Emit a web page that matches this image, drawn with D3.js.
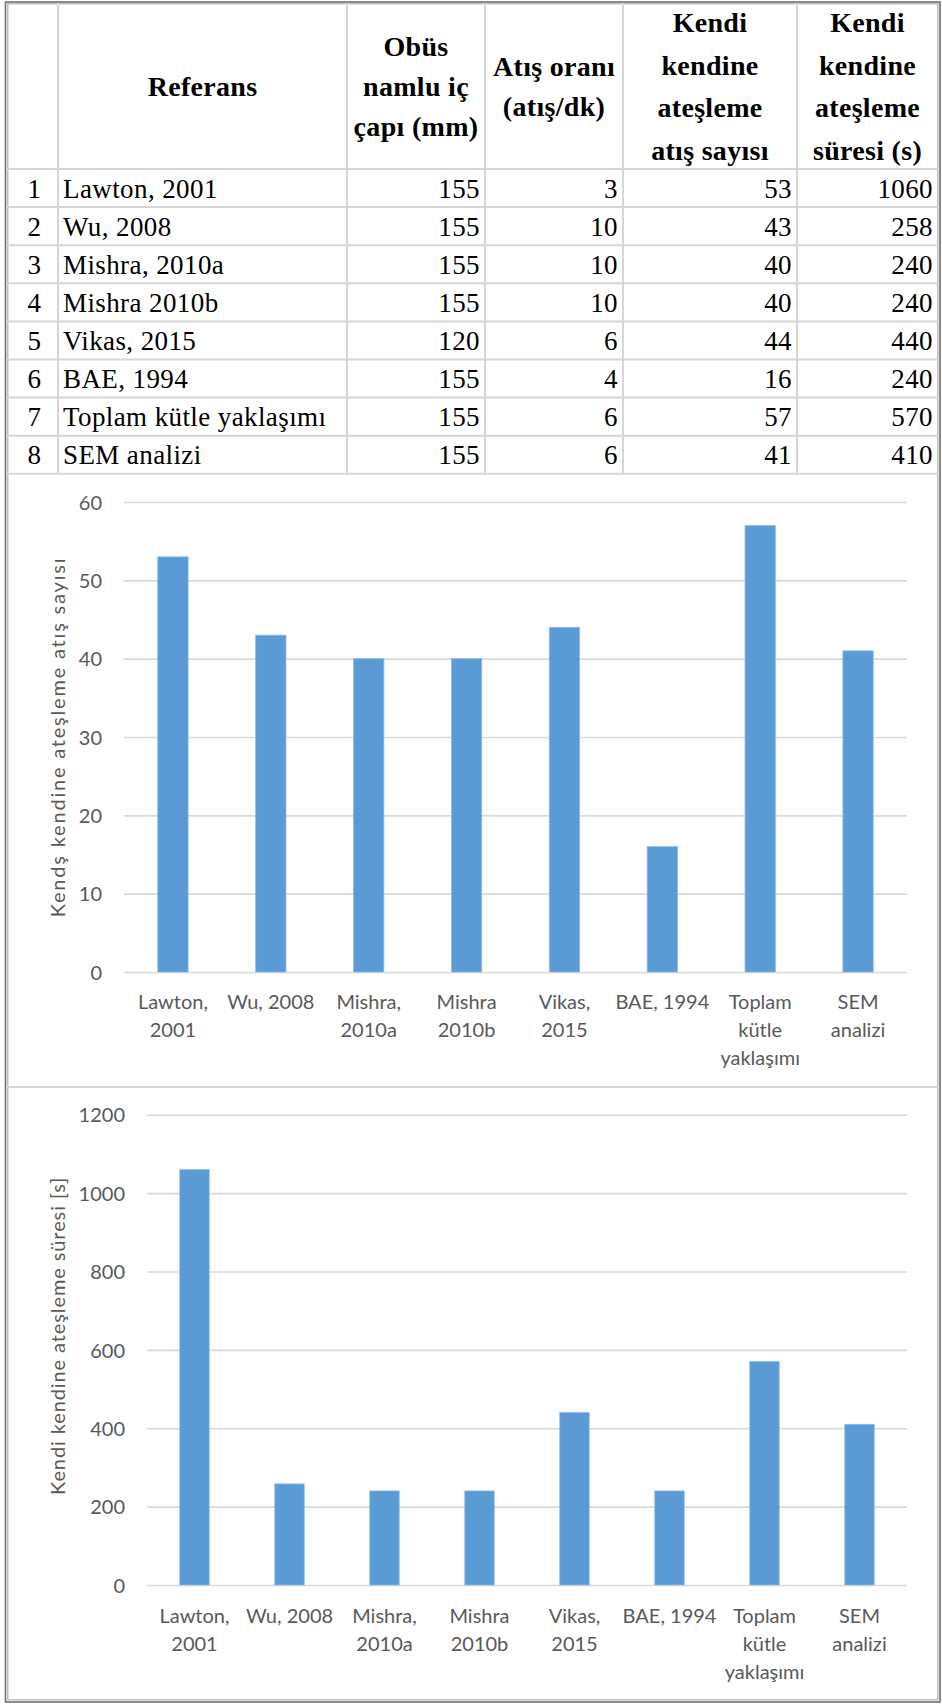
<!DOCTYPE html>
<html>
<head>
<meta charset="utf-8">
<script src="https://cdn.jsdelivr.net/npm/d3@7/dist/d3.min.js"></script>
<style>
  html, body { margin: 0; padding: 0; background: #fff; }
  svg { display: block; }
  .tbl text { font-family: "Liberation Serif", "Times New Roman", serif; fill: #000; }
  .chart text { font-family: Lato, "Open Sans", sans-serif; fill: #595959; }
</style>
</head>
<body>
<svg id="fig" width="942" height="1704"></svg>
<script>
// Cook-off comparison data
const rowNumbers = [1, 2, 3, 4, 5, 6, 7, 8];
const references = ["Lawton, 2001", "Wu, 2008", "Mishra, 2010a", "Mishra 2010b",
                    "Vikas, 2015", "BAE, 1994", "Toplam kütle yaklaşımı", "SEM analizi"];
const axisLabels = ["Lawton,\n2001", "Wu, 2008", "Mishra,\n2010a", "Mishra\n2010b",
                    "Vikas,\n2015", "BAE, 1994", "Toplam\nkütle\nyaklaşımı", "SEM\nanalizi"];
const caliber = [155, 155, 155, 155, 120, 155, 155, 155];
const fireRate = [3, 10, 10, 10, 6, 4, 6, 6];
const cookOffRounds = [53, 43, 40, 40, 44, 16, 57, 41];
const cookOffTime = [1060, 258, 240, 240, 440, 240, 570, 410];
const roundsTicks = [0, 10, 20, 30, 40, 50, 60];
const timeTicks = [0, 200, 400, 600, 800, 1000, 1200];
const headers = [
  [],
  ["Referans"],
  ["Obüs", "namlu iç", "çapı (mm)"],
  ["Atış oranı", "(atış/dk)"],
  ["Kendi", "kendine", "ateşleme", "atış sayısı"],
  ["Kendi", "kendine", "ateşleme", "süresi (s)"]
];
const roundsTitle = "Kendş kendine ateşleme atış sayısı";
const timeTitle = "Kendi kendine ateşleme süresi [s]";

const svg = d3.select("#fig");

// ---------- outer frame ----------
svg.append("rect").attr("x", 5.5).attr("y", 2).attr("width", 934.5).attr("height", 1700)
  .attr("fill", "none").attr("stroke", "#6f6f6f").attr("stroke-width", 1.6);
svg.append("rect").attr("x", 7.8).attr("y", 3.8).attr("width", 930).attr("height", 1696)
  .attr("fill", "none").attr("stroke", "#b4b4b4").attr("stroke-width", 1.3);

// ---------- table ----------
const colX = [7, 58, 347, 485, 623, 797, 938];
const headTop = 3, headBottom = 169, rowH = 38.1;
const tableBottom = headBottom + rowH * rowNumbers.length;
const tbl = svg.append("g").attr("class", "tbl");
const gridColor = "#d6d6d6";

// row rules
d3.range(rowNumbers.length + 1).forEach(i => {
  const y = headBottom + i * rowH;
  tbl.append("line").attr("x1", colX[0]).attr("x2", colX[6]).attr("y1", y).attr("y2", y)
    .attr("stroke", gridColor).attr("stroke-width", 2);
});
// column rules
colX.slice(1, 6).forEach(x => {
  tbl.append("line").attr("x1", x).attr("x2", x).attr("y1", headTop).attr("y2", tableBottom)
    .attr("stroke", gridColor).attr("stroke-width", 2);
});

// header text
const headMid = 88;
headers.forEach((lines, c) => {
  const cx = (colX[c] + colX[c + 1]) / 2;
  const lead = lines.length > 3 ? 42.5 : 40;
  lines.forEach((t, i) => {
    tbl.append("text")
      .attr("x", cx)
      .attr("y", headMid + 8 + (i - (lines.length - 1) / 2) * lead)
      .attr("text-anchor", "middle")
      .attr("font-weight", "bold")
      .attr("font-size", 28)
      .attr("letter-spacing", 0.3)
      .text(t);
  });
});

// body rows
const columns = [rowNumbers, references, caliber, fireRate, cookOffRounds, cookOffTime];
rowNumbers.forEach((_, r) => {
  const by = headBottom + r * rowH + rowH / 2 + 9.5;
  columns.forEach((col, c) => {
    const t = tbl.append("text").attr("y", by).attr("font-size", 27)
      .attr("letter-spacing", 0.4).text(col[r]);
    if (c === 0) t.attr("x", (colX[0] + colX[1]) / 2 + 2).attr("text-anchor", "middle");
    else if (c === 1) t.attr("x", colX[1] + 5);
    else t.attr("x", colX[c + 1] - 5).attr("text-anchor", "end");
  });
});

// section rule between the two charts
svg.append("line").attr("x1", 7).attr("x2", 938).attr("y1", 1087).attr("y2", 1087)
  .attr("stroke", gridColor).attr("stroke-width", 2);

// ---------- column charts ----------
function columnChart(opts) {
  const g = svg.append("g").attr("class", "chart");
  const x = d3.scaleBand().domain(d3.range(references.length))
    .range([opts.left, opts.right]).paddingInner(0.69).paddingOuter(0.345);
  const y = d3.scaleLinear().domain([0, d3.max(opts.ticks)]).range([opts.bottom, opts.top]);

  // value axis with gridlines
  const ya = g.append("g").attr("transform", `translate(${opts.left},0)`)
    .call(d3.axisLeft(y).tickValues(opts.ticks).tickSizeInner(-(opts.right - opts.left))
      .tickSizeOuter(0).tickPadding(22).tickFormat(d3.format("d")));
  ya.select(".domain").remove();
  ya.selectAll(".tick line").attr("stroke", "#d9d9d9").attr("stroke-width", 1.6);
  ya.selectAll(".tick text").attr("font-size", 20).attr("fill", "#595959")
    .attr("font-family", "Lato, sans-serif").attr("dy", "0.36em");

  // bars
  g.append("g").selectAll("rect").data(opts.values).join("rect")
    .attr("x", (d, i) => x(i))
    .attr("width", x.bandwidth())
    .attr("y", d => y(d))
    .attr("height", d => y(0) - y(d))
    .attr("fill", "#5b9bd5")
    .attr("stroke", "#8fbbe5")
    .attr("stroke-width", 0.8);

  // category axis
  const xa = g.append("g").attr("transform", `translate(0,${opts.bottom})`)
    .call(d3.axisBottom(x).tickSize(0).tickPadding(0).tickFormat(i => axisLabels[i]));
  xa.select(".domain").remove();
  xa.selectAll(".tick text").each(function (i) {
    const lines = axisLabels[i].split("\n");
    const t = d3.select(this).text(null).attr("font-size", 20).attr("fill", "#595959")
      .attr("font-family", "Lato, sans-serif").attr("y", 0).attr("dy", null);
    lines.forEach((s, k) => t.append("tspan").attr("x", 0).attr("y", opts.labelY + k * 28).text(s));
  });

  // axis title
  g.append("text")
    .attr("transform", `translate(${opts.titleX},${(opts.top + opts.bottom) / 2 + opts.titleShift}) rotate(-90)`)
    .attr("text-anchor", "middle")
    .attr("font-size", 20)
    .attr("letter-spacing", opts.titleSpacing)
    .attr("fill", "#595959")
    .text(opts.title);
}

columnChart({
  left: 124, right: 907, top: 502, bottom: 972,
  ticks: roundsTicks, values: cookOffRounds,
  labelY: 37, title: roundsTitle, titleX: 65, titleSpacing: 1.8, titleShift: 0
});

columnChart({
  left: 147, right: 907, top: 1114.7, bottom: 1585,
  ticks: timeTicks, values: cookOffTime,
  labelY: 38, title: timeTitle, titleX: 65, titleSpacing: 0.9, titleShift: -14
});
</script>
</body>
</html>
